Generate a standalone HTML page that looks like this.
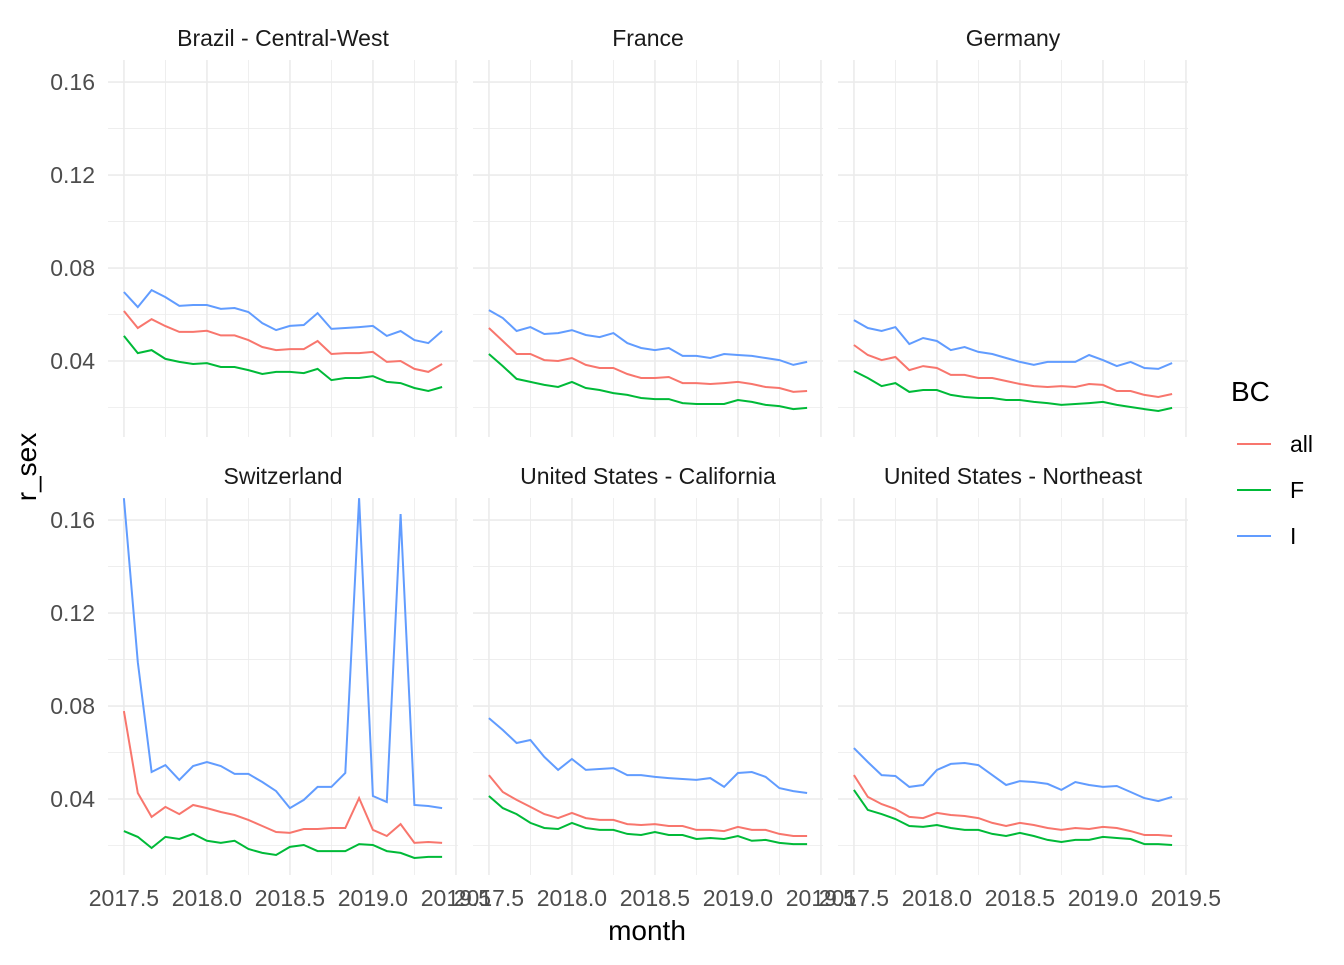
<!DOCTYPE html>
<html><head><meta charset="utf-8"><style>
body{margin:0;background:#fff;font-family:"Liberation Sans",sans-serif}
</style></head><body>
<svg id="chart" width="1344" height="960" xmlns="http://www.w3.org/2000/svg" font-family="Liberation Sans, sans-serif">
<rect width="1344" height="960" fill="#fff"/>
</svg>
<script>
const months = Array.from({length:24},(_,i)=>2017.5+i/12);
const facetNames = ["Brazil - Central-West","France","Germany","Switzerland","United States - California","United States - Northeast"];
const seriesNames = ["all","F","I"];
const seriesColors = ["#F8766D","#00BA38","#619CFF"];
const xTicks = [2017.5,2018.0,2018.5,2019.0,2019.5];
const yTicks = [0.04,0.08,0.12,0.16];
const brazilAll=[0.0615,0.0542,0.058,0.055,0.0525,0.0525,0.053,0.051,0.051,0.049,0.046,0.0447,0.0451,0.0451,0.0486,0.043,0.0434,0.0434,0.0439,0.0396,0.04,0.0366,0.0353,0.0387];
const brazilF=[0.0508,0.0434,0.0447,0.0409,0.0396,0.0387,0.0391,0.0374,0.0374,0.0361,0.0344,0.0353,0.0353,0.0348,0.0366,0.0318,0.0327,0.0327,0.0335,0.031,0.0305,0.0284,0.0271,0.0288];
const brazilI=[0.0697,0.0632,0.0705,0.0675,0.0637,0.0641,0.0641,0.0624,0.0628,0.0611,0.0563,0.0533,0.0551,0.0555,0.0606,0.0538,0.0542,0.0546,0.0551,0.0508,0.0529,0.049,0.0477,0.0529];
const franceAll=[0.0542,0.0486,0.043,0.043,0.0404,0.04,0.0413,0.0383,0.037,0.037,0.0344,0.0327,0.0327,0.0331,0.0305,0.0305,0.0301,0.0305,0.031,0.0301,0.0288,0.0284,0.0267,0.0271];
const franceF=[0.043,0.0378,0.0323,0.031,0.0297,0.0288,0.031,0.0284,0.0275,0.0262,0.0254,0.0241,0.0236,0.0236,0.0219,0.0215,0.0215,0.0215,0.0232,0.0224,0.0211,0.0206,0.0193,0.0198];
const franceI=[0.0619,0.0585,0.0529,0.0546,0.0516,0.052,0.0533,0.0512,0.0503,0.052,0.0477,0.0456,0.0447,0.0456,0.0422,0.0422,0.0413,0.043,0.0426,0.0422,0.0413,0.0404,0.0383,0.0396];
const germanyAll=[0.0469,0.0426,0.0404,0.0417,0.0361,0.0378,0.037,0.034,0.034,0.0327,0.0327,0.0314,0.0301,0.0292,0.0288,0.0292,0.0288,0.0301,0.0297,0.0271,0.0271,0.0254,0.0245,0.0258];
const germanyF=[0.0357,0.0327,0.0292,0.0305,0.0267,0.0275,0.0275,0.0254,0.0245,0.0241,0.0241,0.0232,0.0232,0.0224,0.0219,0.0211,0.0215,0.0219,0.0224,0.0211,0.0202,0.0193,0.0185,0.0198];
const germanyI=[0.0576,0.0542,0.0529,0.0546,0.0473,0.0499,0.0486,0.0447,0.046,0.0439,0.043,0.0413,0.0396,0.0383,0.0396,0.0396,0.0396,0.0426,0.0404,0.0378,0.0396,0.037,0.0366,0.0391];
const swissAll=[0.0778,0.0426,0.0323,0.0366,0.0335,0.0374,0.0361,0.0344,0.0331,0.031,0.0284,0.0258,0.0254,0.0271,0.0271,0.0275,0.0275,0.0404,0.0267,0.0241,0.0292,0.0211,0.0215,0.0211];
const swissF=[0.0262,0.0237,0.0189,0.0237,0.0228,0.025,0.022,0.0211,0.022,0.0185,0.0168,0.0159,0.0194,0.0202,0.0176,0.0176,0.0176,0.0206,0.0202,0.0176,0.0168,0.0146,0.0151,0.0151];
const swissI=[0.1694,0.0989,0.0516,0.0546,0.0482,0.0542,0.0559,0.0542,0.0508,0.0508,0.0473,0.0434,0.0361,0.0396,0.0452,0.0452,0.0512,0.1694,0.0413,0.0387,0.1626,0.0374,0.037,0.0361];
const califAll=[0.0503,0.043,0.0396,0.0366,0.0335,0.0318,0.034,0.0318,0.031,0.031,0.0292,0.0288,0.0292,0.0284,0.0284,0.0267,0.0267,0.0262,0.028,0.0267,0.0267,0.025,0.0241,0.0241];
const califF=[0.0413,0.0361,0.0335,0.0297,0.0275,0.0271,0.0297,0.0275,0.0267,0.0267,0.025,0.0245,0.0258,0.0245,0.0245,0.0228,0.0232,0.0228,0.0241,0.022,0.0224,0.0211,0.0206,0.0206];
const califI=[0.0748,0.0697,0.0641,0.0654,0.0581,0.0525,0.0572,0.0525,0.0529,0.0533,0.0503,0.0503,0.0495,0.049,0.0486,0.0482,0.049,0.0452,0.0512,0.0516,0.0495,0.0447,0.0434,0.0426];
const neAll=[0.0503,0.0409,0.0378,0.0357,0.0323,0.0318,0.034,0.0331,0.0327,0.0318,0.0297,0.0284,0.0297,0.0288,0.0275,0.0267,0.0275,0.0271,0.028,0.0275,0.0262,0.0245,0.0245,0.0241];
const neF=[0.0439,0.0353,0.0335,0.0314,0.0284,0.028,0.0288,0.0275,0.0267,0.0267,0.025,0.0241,0.0254,0.0241,0.0224,0.0215,0.0224,0.0224,0.0237,0.0232,0.0228,0.0206,0.0206,0.0202];
const neI=[0.0619,0.0559,0.0503,0.0499,0.0452,0.046,0.0525,0.0551,0.0555,0.0546,0.0503,0.046,0.0477,0.0473,0.0465,0.0439,0.0473,0.046,0.0452,0.0456,0.043,0.0404,0.0391,0.0409];
const facetData=[[brazilAll,brazilF,brazilI],[franceAll,franceF,franceI],[germanyAll,germanyF,germanyI],[swissAll,swissF,swissI],[califAll,califF,califI],[neAll,neF,neI]];

const svg=document.getElementById('chart');
const NS='http://www.w3.org/2000/svg';
function mk(tag,attrs,parent){const e=document.createElementNS(NS,tag);for(const k in attrs)e.setAttribute(k,attrs[k]);(parent||svg).appendChild(e);return e;}
const panelLefts=[108,473,838], panelW=350;
const panelTops=[60,498], panelH=377;
const X0=2017.5-0.096, X1=2019.5125, Y0=0.0073, Y1=0.1695;
facetNames.forEach((name,fi)=>{
  const col=fi%3,row=Math.floor(fi/3);
  const L=panelLefts[col],T=panelTops[row];
  const xs=v=>L+(v-X0)/(X1-X0)*panelW;
  const ys=v=>T+panelH-(v-Y0)/(Y1-Y0)*panelH;
  const g=mk('g',{});
  
  
  for(let v=0.02;v<0.17;v+=0.04){const l=mk('line',{x1:L,x2:L+panelW,y1:ys(v),y2:ys(v),stroke:'#ebebeb','stroke-width':0.8},g);}
  for(let v=2017.75;v<2019.6;v+=0.5){const l=mk('line',{x1:xs(v),x2:xs(v),y1:T,y2:T+panelH,stroke:'#ebebeb','stroke-width':0.8},g);}
  yTicks.forEach(v=>{const l=mk('line',{x1:L,x2:L+panelW,y1:ys(v),y2:ys(v),stroke:'#ebebeb','stroke-width':1.6},g);});
  xTicks.forEach(v=>{const l=mk('line',{x1:xs(v),x2:xs(v),y1:T,y2:T+panelH,stroke:'#ebebeb','stroke-width':1.6},g);});
  const st=mk('text',{x:L+panelW/2,y:T-14,'text-anchor':'middle','font-size':'23',fill:'#1a1a1a'},g);st.textContent=name;
  
  if(col===0){yTicks.forEach(v=>{const t=mk('text',{x:L-13,y:ys(v)+8,'text-anchor':'end','font-size':'23',fill:'#4d4d4d'},g);t.textContent=v.toFixed(2);});}
  if(row===1){xTicks.forEach(v=>{const t=mk('text',{x:xs(v),y:906,'text-anchor':'middle','font-size':'23',fill:'#4d4d4d'},g);t.textContent=v.toFixed(1);});}
  const clipId='clip'+fi;
  const cp=mk('clipPath',{id:clipId},g);mk('rect',{x:L,y:T,width:panelW,height:panelH},cp);
  facetData[fi].forEach((vals,si)=>{
    const d=vals.map((v,i)=>(i?'L':'M')+xs(months[i]).toFixed(1)+','+ys(v).toFixed(1)).join('');
    const p=mk('path',{d:d,fill:'none',stroke:seriesColors[si],'stroke-width':2,'clip-path':'url(#'+clipId+')'},g);
    
    
  });
});
const xt=mk('text',{x:647,y:940,'text-anchor':'middle','font-size':'28',fill:'#000'});xt.textContent='month';

const yt=mk('text',{x:36,y:467,'text-anchor':'middle','font-size':'28',fill:'#000',transform:'rotate(-90 36 467)'});yt.textContent='r_sex';

const lt=mk('text',{x:1231,y:401,'font-size':'28',fill:'#000'});lt.textContent='BC';

seriesNames.forEach((n,i)=>{
  const y=444+i*46;
  const g=mk('g',{});
  
  
  mk('line',{x1:1237,x2:1271,y1:y,y2:y,stroke:seriesColors[i],'stroke-width':2},g);
  const t=mk('text',{x:1290,y:y+8,'font-size':'23',fill:'#000'},g);t.textContent=n;
});
</script>
</body></html>
